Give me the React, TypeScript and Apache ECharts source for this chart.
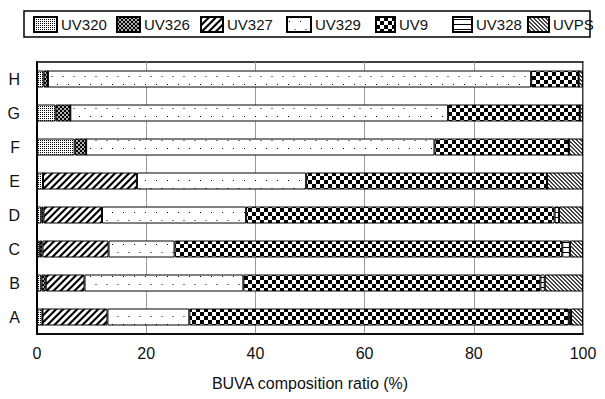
import React, { useEffect, useRef } from 'react';
import * as echarts from 'echarts';

const categories = ['A', 'B', 'C', 'D', 'E', 'F', 'G', 'H'];
const seriesNames = ['UV320', 'UV326', 'UV327', 'UV329', 'UV9', 'UV328', 'UVPS'];
const uv320 = [1.0, 0.8, 0.5, 0.8, 1.1, 6.9, 3.4, 1.2];
const uv326 = [0, 0.8, 0.5, 0.4, 0, 2.1, 2.7, 0.8];
const uv327 = [11.9, 7.1, 12.1, 10.7, 17.2, 0, 0, 0];
const uv329 = [15.0, 29.1, 12.1, 26.4, 31.0, 63.8, 69.2, 88.5];
const uv9 = [69.5, 54.4, 71.0, 56.5, 44.1, 24.6, 24.1, 8.7];
const uv328 = [0.4, 0.8, 1.4, 0.8, 0, 0, 0, 0];
const uvps = [2.2, 7.0, 2.4, 4.4, 6.6, 2.6, 0.6, 0.8];
const xMin = 0;
const xMax = 100;
const xInterval = 20;
const xTitle = 'BUVA composition ratio (%)';

function tile(w: number, h: number, inside: (x: number, y: number) => boolean, ss = 4) {
  const c = document.createElement('canvas');
  c.width = w;
  c.height = h;
  const ctx = c.getContext('2d')!;
  const img = ctx.createImageData(w, h);
  for (let y = 0; y < h; y++) {
    for (let x = 0; x < w; x++) {
      let cnt = 0;
      for (let sy = 0; sy < ss; sy++) {
        for (let sx = 0; sx < ss; sx++) {
          if (inside(x + (sx + 0.5) / ss, y + (sy + 0.5) / ss)) cnt++;
        }
      }
      const v = 255 - Math.round((255 * cnt) / (ss * ss));
      const i = (y * w + x) * 4;
      img.data[i] = v;
      img.data[i + 1] = v;
      img.data[i + 2] = v;
      img.data[i + 3] = 255;
    }
  }
  ctx.putImageData(img, 0, 0);
  return { image: c, repeat: 'repeat', imageWidth: w, imageHeight: h } as any;
}

function makePatterns() {
  const d = (x: number, y: number, cx: number, cy: number) => Math.hypot(x - cx, y - cy);
  return [
    tile(2, 2, (x, y) => x < 1 && y < 1),
    tile(4, 4, (x, y) => !(d(x, y, 1, 1) < 0.9 || d(x, y, 3, 3) < 0.9)),
    tile(7, 7, (x, y) => (x + y) % 7 < 2.8),
    tile(11, 16, (x, y) => (x >= 2 && x < 3 && y >= 4 && y < 5) || (x >= 7.5 && x < 8.5 && y >= 12 && y < 13)),
    tile(8, 8, (x, y) => (Math.floor(x / 4) + Math.floor(y / 4)) % 2 === 0),
    tile(4, 5, (x, y) => y >= 2 && y < 3),
    tile(4, 4, (x, y) => (((x - y) % 4) + 4) % 4 < 1.5),
  ];
}

const legendLefts = [33, 116, 200, 286, 375, 452, 527];
const legendWidths = [23, 23, 22, 24, 19, 19, 21];

export default function App() {
  const ref = useRef<HTMLDivElement>(null);
  useEffect(() => {
    if (!ref.current) return;
    const chart = echarts.init(ref.current, null, { renderer: 'svg' });
    const patterns = makePatterns();
    const values = [uv320, uv326, uv327, uv329, uv9, uv328, uvps];
    const font = "'Liberation Sans', Arial, sans-serif";
    const option: any = {
      animation: false,
      backgroundColor: '#fff',
      textStyle: { fontFamily: font },
      graphic: [
        {
          type: 'rect',
          shape: { x: 24, y: 11, width: 566, height: 26 },
          style: { fill: 'none', stroke: '#000', lineWidth: 1.5 },
          z: 10,
        },
      ],
      legend: seriesNames.map((n, i) => ({
        data: [n],
        left: legendLefts[i],
        top: 16,
        padding: 0,
        icon: 'rect',
        itemWidth: legendWidths[i],
        itemHeight: 15,
        selectedMode: false,
        textStyle: { fontFamily: font, fontSize: 15, color: '#111', padding: [0, 0, 0, -1] },
      })),
      grid: {
        left: 37,
        right: 22,
        top: 62,
        bottom: 65,
        show: true,
        borderColor: '#000',
        borderWidth: 1.5,
        backgroundColor: 'transparent',
      },
      xAxis: {
        type: 'value',
        min: xMin,
        max: xMax,
        interval: xInterval,
        name: xTitle,
        nameLocation: 'middle',
        nameGap: 41,
        nameTextStyle: { fontFamily: font, fontSize: 16, color: '#111' },
        axisLine: { show: true, lineStyle: { color: '#000', width: 1.5 } },
        axisTick: { show: false },
        axisLabel: { fontFamily: font, fontSize: 16, color: '#111', margin: 11 },
        splitLine: { show: true, lineStyle: { color: '#999', width: 1 } },
      },
      yAxis: {
        type: 'category',
        data: categories,
        axisLine: { show: true, lineStyle: { color: '#000', width: 2 } },
        axisTick: { show: false },
        axisLabel: { fontFamily: font, fontSize: 16, color: '#111', margin: 17 },
        splitLine: { show: false },
      },
      series: seriesNames.map((n, i) => ({
        name: n,
        type: 'bar',
        stack: 'total',
        barWidth: 17,
        data: values[i],
        itemStyle: { color: patterns[i], borderColor: '#000', borderWidth: 1 },
        emphasis: { disabled: true },
      })),
    };
    chart.setOption(option);
    return () => chart.dispose();
  }, []);
  return <div ref={ref} style={{ position: 'fixed', left: 0, top: 0, width: 605, height: 399 }} />;
}
